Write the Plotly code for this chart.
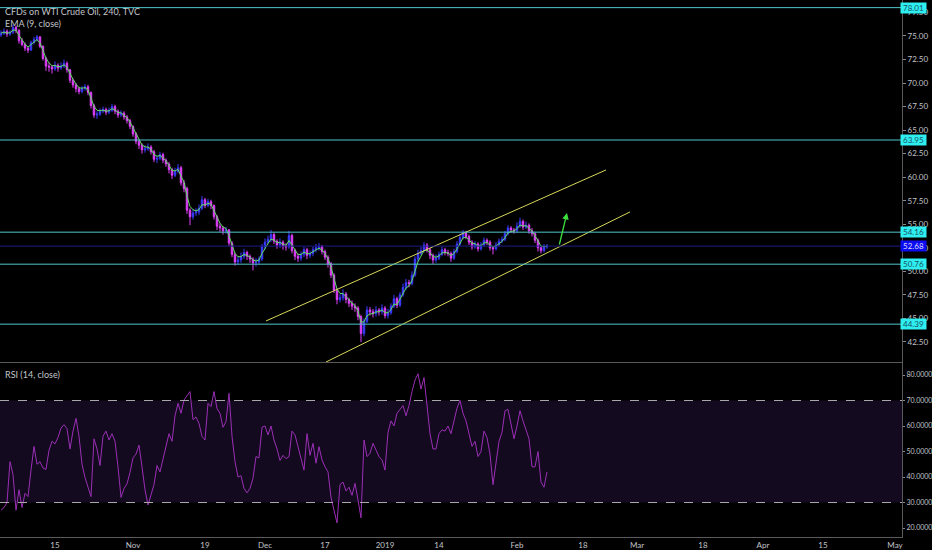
import pandas as pd
import plotly.graph_objects as go

# ---- data (12h bars, CFD WTI) ----
first_open = 75.1
closes = [75.3, 75.5, 75.2, 75.4, 75.9, 75.6, 74.5, 74.1, 73.7, 73.5,
          74.3, 74.6, 74.9, 73.9, 72.6, 71.8, 71.7, 71.5, 71.9, 71.6,
          71.8, 72.1, 71.4, 70.3, 69.8, 69.4, 69.1, 69.4, 69.6, 69.0,
          67.6, 66.6, 66.7, 67.0, 67.2, 66.9, 67.1, 67.5, 67.0, 66.6,
          66.8, 66.4, 66.0, 65.4, 64.6, 63.8, 63.4, 62.9, 63.0, 63.2,
          62.7, 61.9, 62.0, 62.4, 61.8, 61.4, 60.8, 60.2, 60.6, 61.0,
          59.4, 58.8, 56.5, 55.8, 56.2, 56.3, 56.7, 57.6, 57.0, 57.4,
          57.0, 55.8, 54.8, 54.6, 54.3, 54.4, 53.0, 51.8, 51.0, 51.2,
          51.6, 52.0, 51.6, 51.3, 50.9, 51.0, 51.3, 52.6, 53.1, 53.4,
          53.9, 53.2, 52.8, 53.1, 52.7, 52.6, 53.8, 52.2, 51.6, 51.4,
          51.8, 52.3, 51.7, 51.9, 52.3, 52.5, 52.6, 52.1, 51.5, 50.8,
          49.6, 48.0, 47.0, 47.2, 47.6, 47.0, 46.6, 46.3, 46.1, 45.2,
          43.4, 44.7, 45.9, 45.7, 45.5, 45.9, 45.7, 46.1, 45.3, 45.6,
          46.3, 47.1, 46.4, 47.5, 48.3, 48.8, 48.7, 49.6, 51.3, 51.9,
          52.2, 52.8, 52.3, 51.7, 51.2, 51.4, 51.8, 52.3, 52.0, 51.9,
          51.4, 52.1, 52.9, 53.6, 54.1, 53.7, 53.1, 52.6, 52.9, 52.4,
          52.8, 53.3, 53.1, 52.5, 52.4, 52.8, 53.2, 53.4, 54.0, 54.6,
          54.4, 54.3, 54.8, 55.3, 54.7, 54.9, 54.3, 54.0, 53.3, 52.5,
          52.2, 52.6, 52.68]

highs = [75.6, 75.8, 75.7, 75.6, 76.2, 76.1, 75.7, 74.8, 74.3, 73.9,
         74.5, 74.9, 75.1, 75.0, 74.0, 72.8, 72.2, 71.9, 72.3, 72.1,
         72.2, 72.5, 72.3, 71.5, 70.5, 70.0, 69.6, 69.7, 69.9, 69.8,
         69.1, 67.8, 67.0, 67.3, 67.5, 67.4, 67.4, 67.8, 67.7, 67.2,
         67.1, 67.0, 66.6, 66.2, 65.5, 64.8, 64.0, 63.6, 63.4, 63.6,
         63.4, 62.9, 62.3, 62.7, 62.6, 62.0, 61.6, 61.0, 61.0, 61.4,
         61.2, 59.7, 59.0, 56.7, 56.6, 56.7, 57.1, 58.0, 57.8, 57.7,
         57.6, 57.1, 56.0, 55.1, 54.8, 54.7, 54.5, 53.2, 52.0, 51.6,
         52.0, 52.4, 52.2, 51.8, 51.5, 51.4, 51.6, 52.9, 53.5, 53.8,
         54.4, 54.1, 53.4, 53.5, 53.3, 53.0, 54.3, 54.0, 52.4, 51.9,
         52.1, 52.6, 52.5, 52.2, 52.6, 52.9, 53.0, 52.8, 52.3, 51.7,
         51.0, 49.8, 48.2, 47.6, 48.1, 47.8, 47.2, 46.9, 46.6, 46.3,
         45.4, 45.0, 46.3, 46.2, 46.0, 46.3, 46.1, 46.5, 46.3, 46.0,
         46.6, 47.5, 47.3, 47.8, 48.7, 49.2, 49.1, 50.0, 51.6, 52.3,
         52.6, 53.1, 53.0, 52.5, 51.9, 51.8, 52.1, 52.6, 52.5, 52.3,
         52.1, 52.4, 53.2, 54.0, 54.4, 54.3, 53.9, 53.3, 53.2, 53.1,
         53.1, 53.6, 53.5, 53.3, 52.7, 53.1, 53.5, 53.7, 54.3, 54.9,
         54.8, 54.6, 55.2, 55.7, 55.5, 55.3, 55.1, 54.6, 54.2, 53.5,
         52.7, 52.9, 52.9]

lows = [74.9, 75.1, 74.9, 75.0, 75.2, 75.3, 74.2, 73.9, 73.4, 73.2,
        73.4, 74.1, 74.4, 73.7, 72.4, 71.3, 71.2, 71.0, 71.3, 71.2,
        71.4, 71.6, 71.1, 70.0, 69.5, 69.0, 68.8, 68.9, 69.2, 68.7,
        67.3, 66.3, 66.2, 66.5, 66.8, 66.6, 66.7, 66.9, 66.7, 66.3,
        66.4, 66.1, 65.7, 65.1, 64.3, 63.5, 63.0, 62.5, 62.6, 62.8,
        62.4, 61.6, 61.5, 61.8, 61.5, 61.1, 60.4, 59.8, 60.0, 60.4,
        59.1, 58.4, 56.1, 54.9, 55.5, 55.9, 56.0, 56.5, 56.7, 56.8,
        56.6, 55.5, 54.4, 54.2, 53.9, 54.0, 52.7, 51.5, 50.6, 50.7,
        50.9, 51.3, 51.2, 50.9, 50.1, 50.5, 50.7, 51.1, 52.3, 52.9,
        53.1, 52.9, 52.4, 52.5, 52.3, 52.2, 52.4, 51.9, 51.2, 51.0,
        51.1, 51.5, 51.3, 51.4, 51.6, 52.0, 52.2, 51.8, 51.2, 50.4,
        49.3, 47.7, 46.5, 46.7, 46.9, 46.6, 46.2, 45.9, 45.7, 44.8,
        42.5, 43.1, 44.5, 45.3, 45.1, 45.2, 45.3, 45.4, 45.0, 45.0,
        45.4, 46.1, 46.1, 46.2, 47.3, 48.0, 48.3, 48.5, 49.4, 51.0,
        51.7, 52.0, 52.0, 51.3, 50.8, 50.9, 51.2, 51.6, 51.7, 51.6,
        51.0, 51.2, 51.9, 52.7, 53.4, 53.4, 52.8, 52.3, 52.4, 52.1,
        52.2, 52.6, 52.8, 52.2, 51.8, 52.2, 52.6, 53.0, 53.2, 53.8,
        54.1, 54.0, 54.1, 54.6, 54.4, 54.5, 54.0, 53.7, 53.0, 52.1,
        51.9, 52.0, 52.4]

rsi = [27, 28, 30, 46, 41, 27, 35, 28, 33.6, 32.3,
       42.7, 52, 45, 46, 43.5, 43, 50.5, 54, 53, 55.5,
       59.2, 60.5, 59, 51, 58, 63, 56, 45, 39.8, 35.5,
       32.3, 55, 51, 44.5, 56, 58, 54.5, 57, 54, 44,
       32, 35.5, 37.3, 41.8, 47.5, 49, 52.5, 44, 35, 29,
       33, 37, 44.5, 42, 47, 51.5, 57, 54, 64, 68.9,
       65, 70.2, 72, 73.5, 62.5, 63.5, 61, 55.9, 54.5, 68.9,
       67.6, 73.5, 66.8, 65, 59.5, 61.7, 72.8, 56, 46, 40,
       40.5, 35.5, 33.8, 35.5, 39.5, 48, 47.5, 59.5, 60, 56.5,
       60, 54.5, 51, 46.5, 48.5, 47.2, 48, 58, 56.5, 51.9,
       46.7, 42.7, 57, 48.5, 53.2, 45.4, 51.9, 46.7, 44, 42,
       32, 27, 22, 37, 38, 34.5, 36, 32.8, 37.5, 31,
       24, 54.5, 48, 49.3, 53.2, 50.6, 48, 46.7, 42.7, 57.5,
       62, 60, 65, 66.5, 68, 64, 68, 73.5, 78, 80.5,
       74.5, 79, 68, 57, 51, 51, 57, 58.5, 58, 60,
       57, 62.5, 67, 70, 65, 62, 57, 52, 54, 48,
       50, 58, 55.5, 49, 37, 46, 54, 57.5, 66, 66.5,
       61, 55, 60, 66, 62, 58.8, 55, 44, 44, 50,
       38, 36, 42]

levels = [78.01, 63.95, 54.16, 50.76, 44.39]
last_price = 52.68

channel_upper_x = ["2018-12-03 04:00", "2019-02-21 20:00"]
channel_upper_y = [44.73, 60.77]
channel_lower_x = ["2018-12-17 04:00", "2019-02-27 20:00"]
channel_lower_y = [40.37, 56.31]
arrow_x = ["2019-02-12 00:00", "2019-02-13 08:00"]
arrow_y = [52.69, 56.2]

tick_dates = ["2018-10-15", "2018-11-01", "2018-11-19", "2018-12-03", "2018-12-17",
              "2019-01-01", "2019-01-14", "2019-02-01", "2019-02-18", "2019-03-01",
              "2019-03-18", "2019-04-01", "2019-04-15", "2019-05-01"]
tick_text = ["15", "Nov", "19", "Dec", "17", "2019", "14", "Feb", "18", "Mar",
             "18", "Apr", "15", "May"]
holidays = ["2018-12-25", "2019-01-21"]

# bar times: two per trading day
days = pd.bdate_range("2018-10-02", "2019-02-08")
days = days[~days.isin(pd.to_datetime(holidays))]
times = []
for d in days:
    times.append(d)
    times.append(d + pd.Timedelta(hours=12))
times = times[:len(closes)]
opens = [first_open] + closes[:-1]
ema = pd.Series(closes).ewm(span=3, adjust=False).mean()

FONT = "Liberation Sans Narrow, Arial Narrow, Lato, sans-serif"
TXT = "#c2c4ca"
UP = "#3b3bff"
DOWN = "#e040fb"
TEAL = "#4fc6cc"
GRID_LINE = "#5a5a5a"

fig = go.Figure()

fig.add_trace(go.Candlestick(
    x=times, open=opens, high=highs, low=lows, close=closes,
    increasing=dict(line=dict(color=UP, width=1), fillcolor=UP),
    decreasing=dict(line=dict(color=DOWN, width=1), fillcolor=DOWN),
    whiskerwidth=0, xaxis="x2", yaxis="y", hoverinfo="skip", showlegend=False))

fig.add_trace(go.Scatter(x=times, y=ema, mode="lines", line=dict(color="#5fe05f", width=1),
                         xaxis="x2", yaxis="y", hoverinfo="skip", showlegend=False))

for xs, ys in [(channel_upper_x, channel_upper_y), (channel_lower_x, channel_lower_y)]:
    fig.add_trace(go.Scatter(x=xs, y=ys, mode="lines", line=dict(color="#d8d85a", width=1),
                             xaxis="x2", yaxis="y", hoverinfo="skip", showlegend=False))

fig.add_trace(go.Scatter(x=times, y=rsi, mode="lines", line=dict(color="#9a2fb5", width=1),
                         xaxis="x", yaxis="y2", hoverinfo="skip", showlegend=False))

shapes = []
for lv in levels:
    shapes.append(dict(type="line", xref="paper", x0=0, x1=1, yref="y", y0=lv, y1=lv,
                       line=dict(color=TEAL, width=1)))
shapes.append(dict(type="line", xref="paper", x0=0, x1=1, yref="y", y0=last_price, y1=last_price,
                   line=dict(color="#1c1c8c", width=1)))
shapes.append(dict(type="rect", xref="paper", x0=0, x1=1, yref="y2", y0=30, y1=70,
                   fillcolor="#140a20", line=dict(width=0), layer="below"))
for lv in [70, 30]:
    shapes.append(dict(type="line", xref="paper", x0=0, x1=1, yref="y2", y0=lv, y1=lv,
                       line=dict(color="#a8a8a8", width=1, dash="dash")))

annotations = [
    dict(text="CFDs on WTI Crude Oil, 240, TVC", xref="paper", yref="paper", x=0, y=1 - 11 / 537,
         xanchor="left", yanchor="middle", xshift=3, showarrow=False, font=dict(family=FONT, size=9, color=TXT)),
    dict(text="EMA (9, close)", xref="paper", yref="paper", x=0, y=1 - 23 / 537,
         xanchor="left", yanchor="middle", xshift=3, showarrow=False, font=dict(family=FONT, size=9, color=TXT)),
    dict(text="RSI (14, close)", xref="paper", yref="paper", x=0, y=1 - 374 / 537,
         xanchor="left", yanchor="middle", xshift=3, showarrow=False, font=dict(family=FONT, size=9, color=TXT)),
    dict(x=arrow_x[1], y=arrow_y[1], ax=arrow_x[0], ay=arrow_y[0], xref="x2", yref="y",
         axref="x2", ayref="y", text="", showarrow=True, arrowhead=2, arrowsize=1,
         arrowwidth=1.3, arrowcolor="#3ee03e"),
]
for lv in levels:
    annotations.append(dict(text="%.2f" % lv, xref="paper", x=1, xanchor="left", xshift=-2,
                            yref="y", y=lv, yanchor="middle", showarrow=False, bgcolor="#2eeef0",
                            width=25, height=10, borderpad=0,
                            font=dict(family=FONT, size=8, color="#165064")))
annotations.append(dict(text="%.2f" % last_price, xref="paper", x=1, xanchor="left", xshift=-2,
                        yref="y", y=last_price, yanchor="middle", showarrow=False, bgcolor="#0c0cf0",
                        width=25, height=10, borderpad=0,
                        font=dict(family=FONT, size=8, color="#dcdcff")))

x_common = dict(type="date", range=["2018-10-01 20:00", "2019-05-02 04:00"],
                rangebreaks=[dict(bounds=["sat", "mon"]), dict(values=holidays, dvalue=86400000)],
                showgrid=False, zeroline=False, rangeslider=dict(visible=False),
                showline=True, linecolor=GRID_LINE, linewidth=1)

y_common = dict(side="right", showgrid=False, zeroline=False, automargin=False,
                showline=True, linecolor=GRID_LINE, ticks="outside",
                tickcolor="#888")

fig.update_layout(
    width=932, height=550,
    margin=dict(l=0, r=30, t=0, b=13),
    paper_bgcolor="#000000", plot_bgcolor="#000000",
    showlegend=False,
    xaxis=dict(**x_common, anchor="y2", tickvals=tick_dates, ticktext=tick_text,
               tickfont=dict(family=FONT, size=8, color=TXT), ticks="", automargin=False),
    xaxis2=dict(**x_common, anchor="y", showticklabels=False),
    yaxis=dict(**y_common, domain=[175 / 537, 1], anchor="x2", range=[40.37, 78.82],
               dtick=2.5, tick0=0, tickformat=".2f", ticklen=3,
               tickfont=dict(family=FONT, size=8, color=TXT)),
    yaxis2=dict(**y_common, domain=[0, 175 / 537], anchor="x", range=[16.47, 85.1],
                tickvals=[20, 30, 40, 50, 60, 70, 80], tickformat=".4f", ticklen=2,
                tickfont=dict(family=FONT, size=7, color=TXT)),
    shapes=shapes,
    annotations=annotations,
)

# page body has a default 8px margin; drop it so the chart sits at the window's corner
fig.write_html("out.html", config={"displayModeBar": False},
               post_script="document.body.style.margin='0';document.body.style.background='#000';")
